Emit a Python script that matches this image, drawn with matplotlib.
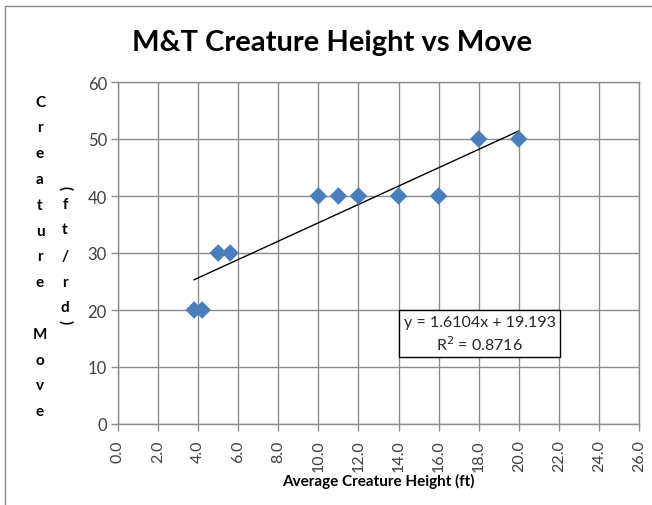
import numpy as np
import matplotlib.pyplot as plt
from matplotlib.patches import Rectangle

# data
height_ft = [3.8, 4.2, 5.0, 5.6, 10, 11, 12, 14, 16, 18, 20]
move_ftrd = [20, 20, 30, 30, 40, 40, 40, 40, 40, 50, 50]

# trendline as shown in the chart label
slope = 1.6104
intercept = 19.193
r_squared = 0.8716

x_ticks = np.arange(0, 27, 2)
y_ticks = np.arange(0, 61, 10)

plt.rcParams["font.family"] = ["Lato", "DejaVu Sans"]

fig = plt.figure(figsize=(6.52, 5.06), dpi=100)
ax = fig.add_axes([118 / 652, 81 / 506, 521 / 652, 342 / 506])

grid_col = "#8c8c8c"
tick_col = "#404040"

ax.scatter(height_ft, move_ftrd, marker="D", s=80, color="#4a7ebb",
           edgecolors="none", zorder=3)

x_line = np.array([min(height_ft), max(height_ft)])
ax.plot(x_line, slope * x_line + intercept, color="black", lw=1, zorder=2)

ax.set_xlim(0, 26)
ax.set_ylim(0, 60)
ax.set_xticks(x_ticks)
ax.set_xticklabels([f"{v:.1f}" for v in x_ticks], rotation=90,
                   fontsize=11.5, color=tick_col)
ax.set_yticks(y_ticks)
ax.set_yticklabels([str(v) for v in y_ticks], fontsize=12, color=tick_col)
ax.tick_params(axis="both", length=5, width=1, color=grid_col, pad=3)
ax.tick_params(axis="x", pad=6)
ax.grid(True, color=grid_col, lw=1)
ax.set_axisbelow(True)
for sp in ax.spines.values():
    sp.set_color(grid_col)
    sp.set_linewidth(1)

ax.set_xlabel("Average Creature Height (ft)", fontsize=11,
              fontweight="bold", color="black", labelpad=1)

fig.text(0.509, 1 - 43 / 506, "M&T Creature Height vs Move",
         ha="center", va="center", fontsize=21, fontweight="bold")

# stacked y label, Excel style
col1 = list("Creature Move")
y0 = 102.7
for i, ch in enumerate(col1):
    if ch == " ":
        continue
    fig.text(40 / 652, 1 - (y0 + i * 25.8) / 506, ch, ha="center",
             va="center", fontsize=11, fontweight="bold")

col2 = list("(ft/rd)")
y_col2 = [188, 205, 230, 257, 283, 308, 322]
for ch, yy in zip(col2, y_col2):
    rot = -90 if ch in "()" else 0
    fig.text(65 / 652, 1 - yy / 506, ch, ha="center", va="center",
             fontsize=11, fontweight="bold", rotation=rot)

ax.text(18.04, 15.8,
        f"y = {slope}x + {intercept}\nR$^2$ = {r_squared}",
        ha="center", va="center", fontsize=11.5, color="#262626",
        linespacing=1.3,
        bbox=dict(boxstyle="square,pad=0.3", fc="white", ec="black",
                  lw=1), zorder=4)

fig.patches.append(Rectangle((5 / 652, -0.1), 1.1, 1 - 7 / 506 + 0.1,
                             transform=fig.transFigure, fill=False,
                             ec="#8c8c8c", lw=1))

fig.savefig("out.png", dpi=100)
